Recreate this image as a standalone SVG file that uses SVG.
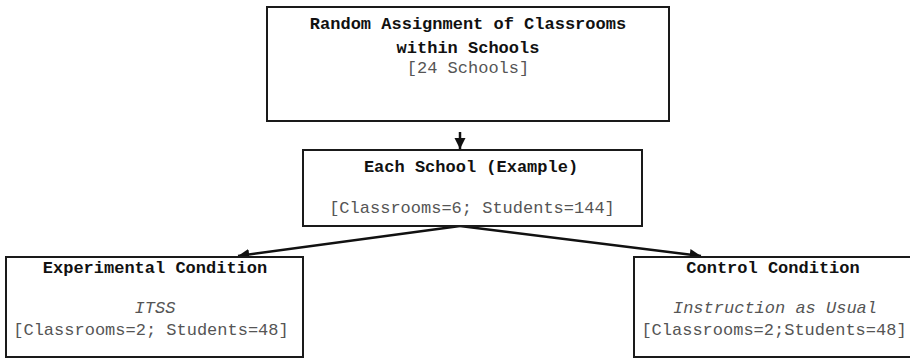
<svg xmlns="http://www.w3.org/2000/svg" width="910" height="358" viewBox="0 0 910 358">
<defs>
<style>
.box{fill:#fff;stroke:#1a1a1a;stroke-width:2}
.t{font-family:"Liberation Mono","Courier New",monospace;font-size:17px;text-anchor:middle}
.b{font-weight:bold;fill:#111}
.n{fill:#555}
.i{font-style:italic;fill:#555}
.edge{stroke:#111;stroke-width:2.5;fill:none}
</style>
<marker id="ah" viewBox="0 0 10 10" refX="10" refY="5" markerWidth="4.5" markerHeight="4.5" orient="auto" markerUnits="strokeWidth">
<path d="M0,0 L10,5 L0,10 z" fill="#111"/>
</marker>
</defs>
<g id="connectors">
<line class="edge" x1="460" y1="132" x2="460" y2="149" marker-end="url(#ah)" stroke-width="2"/>
<line class="edge" x1="460" y1="226" x2="238" y2="256" marker-end="url(#ah)"/>
<line class="edge" x1="460" y1="226" x2="701" y2="256" marker-end="url(#ah)"/>
</g>
<g id="random-assignment">
<rect class="box" x="267" y="7" width="402" height="114"/>
<text class="t b" x="468" y="29">Random Assignment of Classrooms</text>
<text class="t b" x="468" y="53">within Schools</text>
<text class="t n" x="468" y="73">[24 Schools]</text>
</g>
<g id="each-school">
<rect class="box" x="303" y="150" width="339" height="76"/>
<text class="t b" x="471" y="172">Each School (Example)</text>
<text class="t n" x="472" y="213">[Classrooms=6; Students=144]</text>
</g>
<g id="experimental">
<rect class="box" x="6" y="257" width="297" height="100"/>
<text class="t b" x="155" y="273">Experimental Condition</text>
<text class="t i" x="155" y="313">ITSS</text>
<text class="t n" x="151" y="335">[Classrooms=2; Students=48]</text>
</g>
<g id="control">
<rect class="box" x="634" y="257" width="290" height="100"/>
<text class="t b" x="773" y="273">Control Condition</text>
<text class="t i" x="775" y="313">Instruction as Usual</text>
<text class="t n" x="774" y="335">[Classrooms=2;Students=48]</text>
</g>
</svg>
